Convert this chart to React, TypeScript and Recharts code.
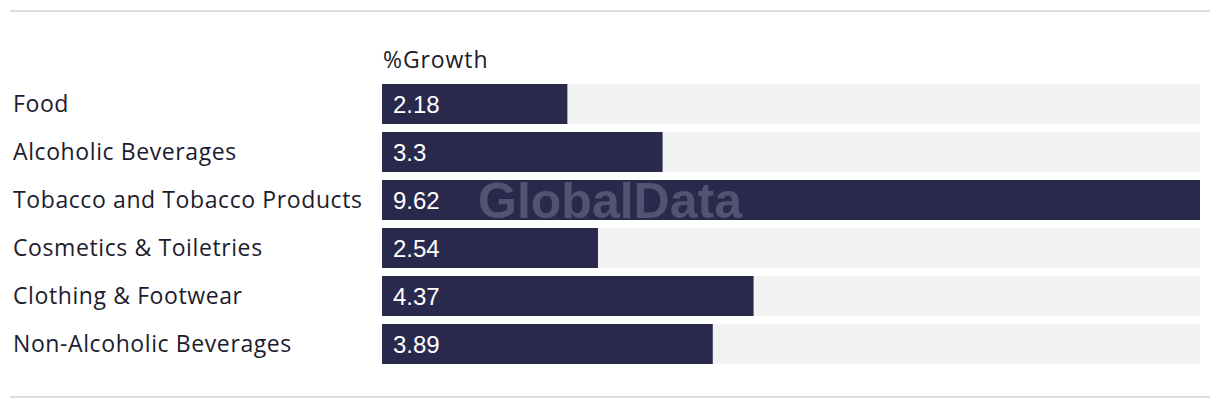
import React from 'react';
import { BarChart, Bar, XAxis, YAxis, LabelList } from 'recharts';

const categories = [
  'Food',
  'Alcoholic Beverages',
  'Tobacco and Tobacco Products',
  'Cosmetics & Toiletries',
  'Clothing & Footwear',
  'Non-Alcoholic Beverages',
];
const growth = [2.18, 3.3, 9.62, 2.54, 4.37, 3.89];
const seriesName = '%Growth';

const data = categories.map((name, i) => ({ name, growth: growth[i] }));

const FONT = '"Open Sans", "Noto Sans", Arial, sans-serif';
const BAR = '#29294d';

const CategoryTick = (props: any) => {
  const { y, payload } = props;
  return (
    <text
      x={13}
      y={y}
      dy={8}
      textAnchor="start"
      fill="#1c1c2e"
      fontSize={23}
      letterSpacing={0.6}
      fontFamily={FONT}
    >
      {payload.value}
    </text>
  );
};

export default function App() {
  return (
    <div style={{ position: 'relative', width: 1220, height: 408, margin: '-8px 0 0 -8px', background: '#fff' }}>
      {/* rules top and bottom */}
      <div style={{ position: 'absolute', left: 10, top: 10, width: 1200, height: 2, background: '#dcdcdc' }} />
      <div style={{ position: 'absolute', left: 10, top: 396, width: 1200, height: 2, background: '#dcdcdc' }} />
      <div
        style={{
          position: 'absolute',
          left: 383,
          top: 45,
          fontFamily: FONT,
          fontSize: 23,
          letterSpacing: 0.9,
          lineHeight: '28px',
          color: '#1c1c2e',
        }}
      >
        {seriesName}
      </div>
      <BarChart
        width={1220}
        height={408}
        data={data}
        layout="vertical"
        margin={{ top: 80, right: 20, bottom: 40, left: 0 }}
        barCategoryGap={4}
      >
        <XAxis type="number" hide domain={[0, 'dataMax']} />
        <YAxis
          type="category"
          dataKey="name"
          width={382}
          axisLine={false}
          tickLine={false}
          tick={<CategoryTick />}
        />
        <Bar dataKey="growth" fill={BAR} background={{ fill: '#f2f2f2' }} isAnimationActive={false}>
          <LabelList
            dataKey="growth"
            position="insideLeft"
            offset={11}
            fill="#ffffff"
            fontSize={24}
            fontFamily="Arial, Liberation Sans, sans-serif"
          />
        </Bar>
      </BarChart>
      {/* watermark */}
      <svg width={1220} height={408} style={{ position: 'absolute', left: 0, top: 0, pointerEvents: 'none' }}>
        <text
          x={610}
          y={218}
          textAnchor="middle"
          fontSize={50}
          fontWeight="bold"
          fontFamily="Arial, Liberation Sans, sans-serif"
          fill="#b4b4c8"
          fillOpacity={0.3}
        >
          GlobalData
        </text>
      </svg>
    </div>
  );
}
